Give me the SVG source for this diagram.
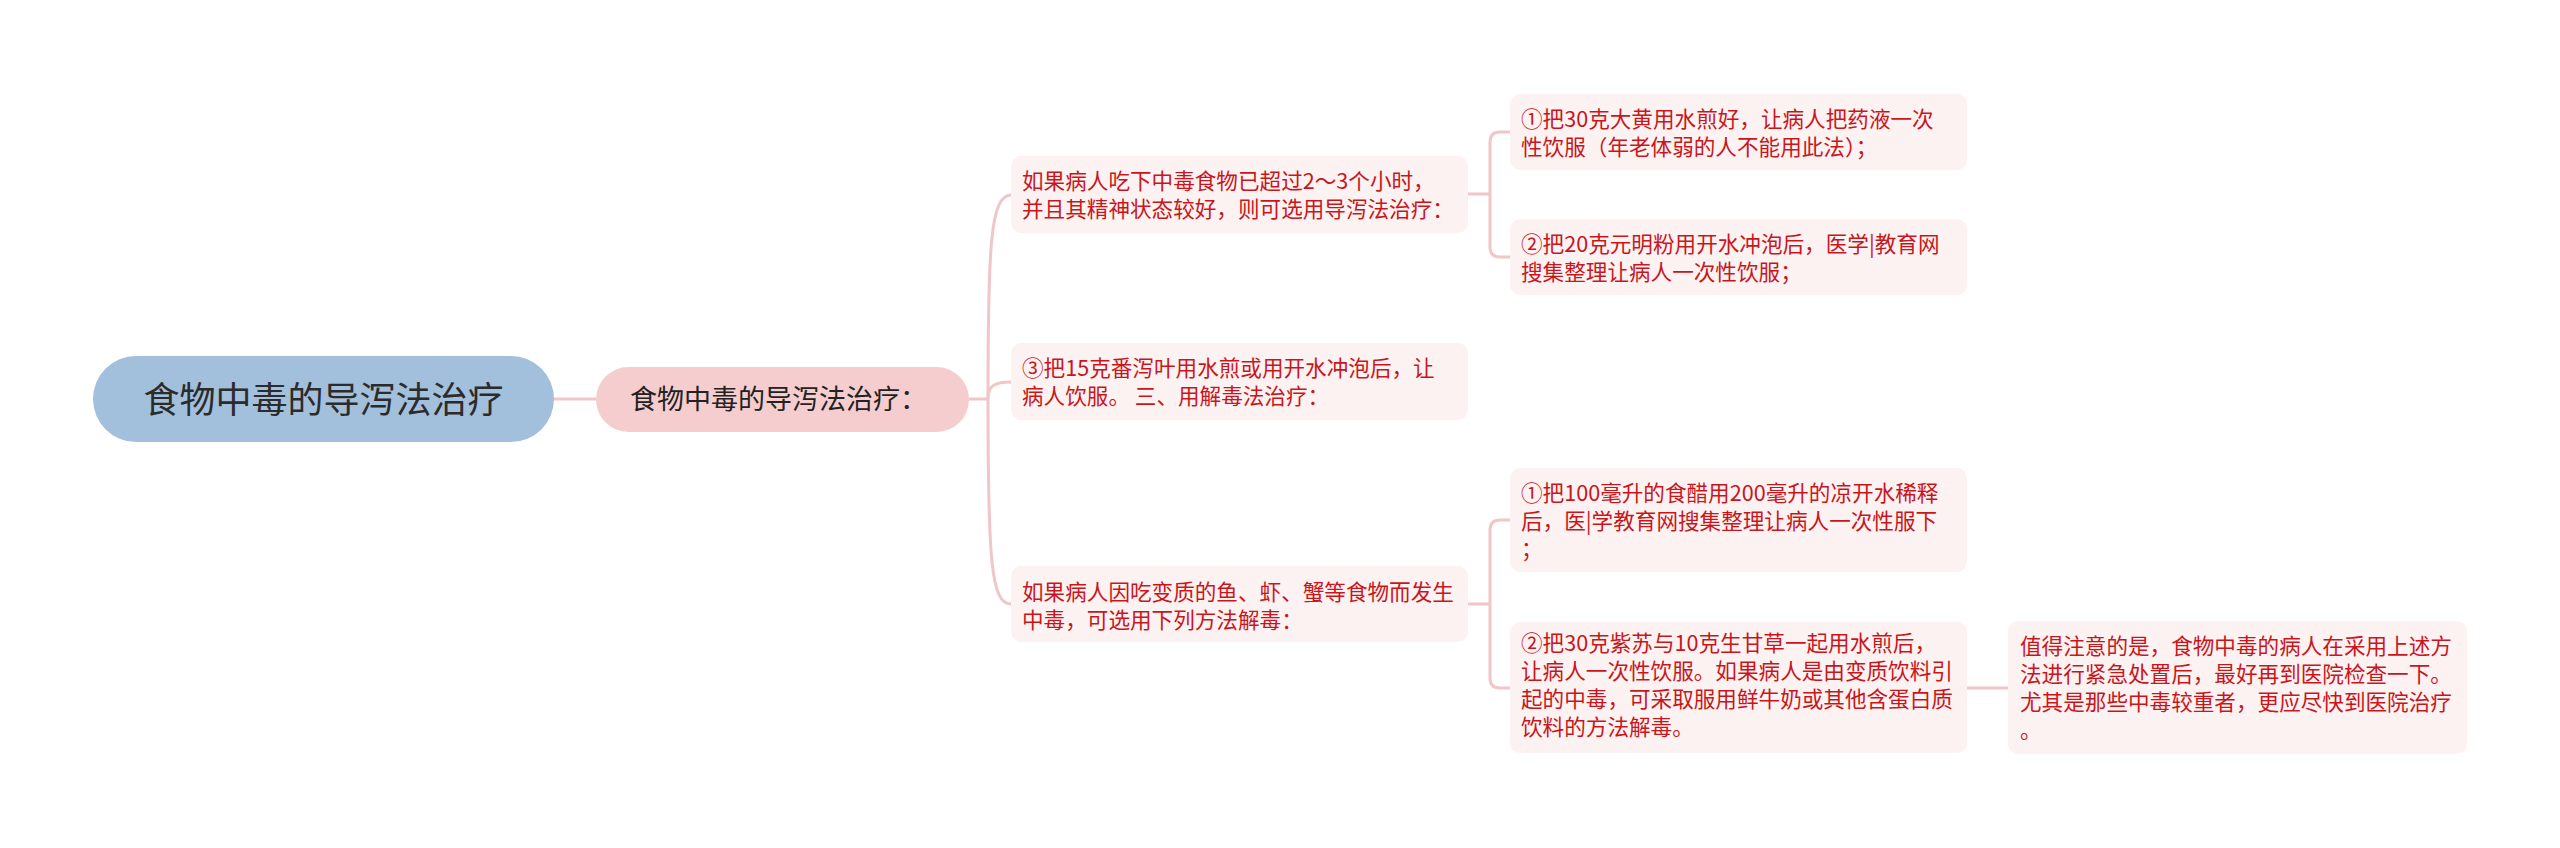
<svg xmlns="http://www.w3.org/2000/svg" width="2560" height="848" viewBox="0 0 2560 848">
<style>
.cjk{font-family:"Noto Sans CJK SC","Noto Sans",sans-serif}
.box{fill:#fdf2f2}
.t{font-size:21.6px;fill:#c8161d}
.conn{fill:none;stroke:#f0c6c8;stroke-width:3}
</style>
<rect width="2560" height="848" fill="#ffffff"/>
<g id="connectors" class="conn">
<path d="M554 399 H596"/>
<path d="M969 399 H988"/>
<path d="M988 399 C988 250 990 195 1011 195"/>
<path d="M988 399 C988 386 994 382 1011 382"/>
<path d="M988 399 C988 560 991 604 1011 604"/>
<path d="M1467 194 H1490"/>
<path d="M1510 132 H1500 Q1490 132 1490 142 V247 Q1490 257 1500 257 H1510"/>
<path d="M1467 604 H1490"/>
<path d="M1510 520 H1500 Q1490 520 1490 530 V678 Q1490 688 1500 688 H1510"/>
<path d="M1967 688 H2008"/>
</g>
<g id="root">
<rect x="93" y="356" width="461" height="86" rx="43" fill="#a2bfdc"/>
<text class="cjk" x="323.5" y="413" font-size="36" fill="#2b2b2b" text-anchor="middle">食物中毒的导泻法治疗</text>
</g>
<g id="sub">
<rect x="596" y="367" width="373" height="65" rx="32.5" fill="#f5cdce"/>
<text class="cjk" x="630" y="409" font-size="27" fill="#222222">食物中毒的导泻法治疗：</text>
</g>
<g id="child1">
<rect class="box" x="1011" y="156" width="457" height="77" rx="10"/>
<text class="cjk t" x="1022" y="189">如果病人吃下中毒食物已超过2～3个小时，</text>
<text class="cjk t" x="1022" y="217">并且其精神状态较好，则可选用导泻法治疗：</text>
</g>
<g id="child2">
<rect class="box" x="1011" y="343" width="457" height="77" rx="10"/>
<text class="cjk t" x="1022" y="376">③把15克番泻叶用水煎或用开水冲泡后，让</text>
<text class="cjk t" x="1022" y="404">病人饮服。 三、用解毒法治疗：</text>
</g>
<g id="child3">
<rect class="box" x="1011" y="566" width="457" height="76" rx="10"/>
<text class="cjk t" x="1022" y="600">如果病人因吃变质的鱼、虾、蟹等食物而发生</text>
<text class="cjk t" x="1022" y="628">中毒，可选用下列方法解毒：</text>
</g>
<g id="gc1">
<rect class="box" x="1510" y="94" width="457" height="76" rx="10"/>
<text class="cjk t" x="1521" y="127">①把30克大黄用水煎好，让病人把药液一次</text>
<text class="cjk t" x="1521" y="155">性饮服（年老体弱的人不能用此法）；</text>
</g>
<g id="gc2">
<rect class="box" x="1510" y="219" width="457" height="76" rx="10"/>
<text class="cjk t" x="1521" y="252">②把20克元明粉用开水冲泡后，医学|教育网</text>
<text class="cjk t" x="1521" y="280">搜集整理让病人一次性饮服；</text>
</g>
<g id="gc3">
<rect class="box" x="1510" y="468" width="457" height="104" rx="10"/>
<text class="cjk t" x="1521" y="501">①把100毫升的食醋用200毫升的凉开水稀释</text>
<text class="cjk t" x="1521" y="529">后，医|学教育网搜集整理让病人一次性服下</text>
<text class="cjk t" x="1521" y="557">；</text>
</g>
<g id="gc4">
<rect class="box" x="1510" y="622" width="457" height="131" rx="10"/>
<text class="cjk t" x="1521" y="651">②把30克紫苏与10克生甘草一起用水煎后，</text>
<text class="cjk t" x="1521" y="679">让病人一次性饮服。如果病人是由变质饮料引</text>
<text class="cjk t" x="1521" y="707">起的中毒，可采取服用鲜牛奶或其他含蛋白质</text>
<text class="cjk t" x="1521" y="735">饮料的方法解毒。</text>
</g>
<g id="ggc">
<rect class="box" x="2008" y="621" width="459" height="133" rx="10"/>
<text class="cjk t" x="2020" y="654">值得注意的是，食物中毒的病人在采用上述方</text>
<text class="cjk t" x="2020" y="682">法进行紧急处置后，最好再到医院检查一下。</text>
<text class="cjk t" x="2020" y="710">尤其是那些中毒较重者，更应尽快到医院治疗</text>
<text class="cjk t" x="2020" y="738">。</text>
</g>
</svg>
